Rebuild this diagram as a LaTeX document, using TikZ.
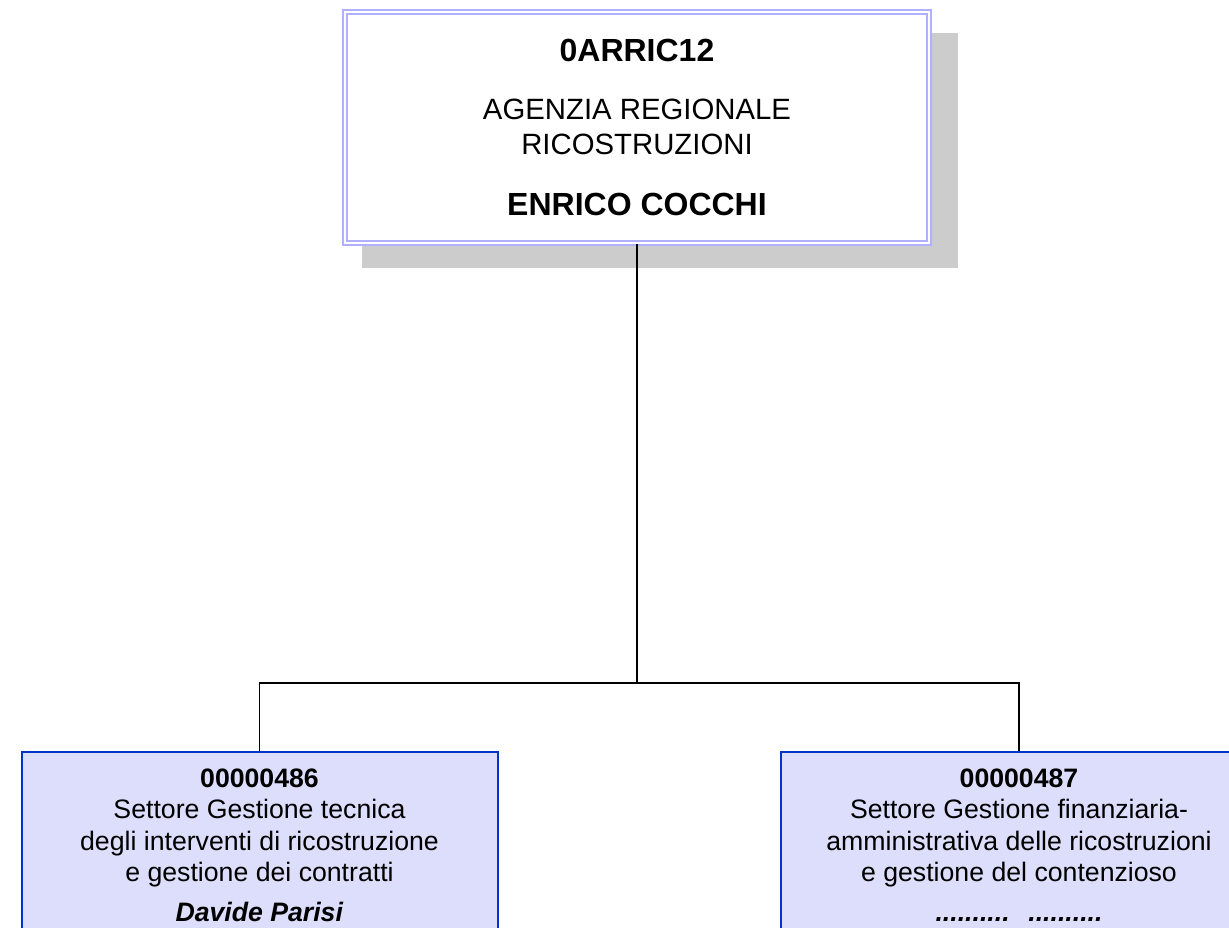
\documentclass[tikz,border=0pt]{standalone}
\usepackage{fontspec}
\setmainfont{Liberation Sans}
\usetikzlibrary{shadows}

\definecolor{framelight}{RGB}{176,176,255}
\definecolor{shadowgray}{RGB}{204,204,204}
\definecolor{boxblue}{RGB}{0,51,204}
\definecolor{boxfill}{RGB}{221,221,252}

\begin{document}
\begin{tikzpicture}[x=0.75pt,y=-0.75pt,align=center,
    headbox/.style={rectangle,draw=framelight,double=white,line width=1.8pt,double distance=1.1pt,
      fill=white,minimum width=438pt,minimum height=173pt,inner sep=0pt,
      drop shadow={shadow xshift=16.9pt,shadow yshift=-16.9pt,shadow scale=1.02,
        fill=shadowgray,opacity=1},
      font=\fontsize{22}{26.25}\selectfont},
    unitbox/.style={rectangle,draw=boxblue,line width=1.5pt,fill=boxfill,anchor=north,
      minimum width=357pt,inner xsep=0pt,inner ysep=12.5pt,text depth=60pt,
      font=\fontsize{20}{23.6}\selectfont},
    conn/.style={black,line width=1.1pt}]
    \clip (0,0) rectangle (1229,928);

    % head of the agency
    \node[headbox] (agency) at (637,127.5) {{\fontsize{24}{28}\selectfont\bfseries 0ARRIC12}\\[17.5pt]
      AGENZIA REGIONALE\\
      RICOSTRUZIONI\\[19.5pt]
      {\fontsize{24}{28}\selectfont\bfseries ENRICO COCCHI}};

    % sectors
    \node[unitbox] (tecnica) at (259.5,751) {\textbf{00000486}\\
      Settore Gestione tecnica\\
      degli interventi di ricostruzione\\
      e gestione dei contratti\\[6pt]
      \textbf{\textit{Davide Parisi}}};
    \node[unitbox] (finanza) at (1019,751) {\textbf{00000487}\\
      Settore Gestione finanziaria-\\
      amministrativa delle ricostruzioni\\
      e gestione del contenzioso\\[6pt]
      \textbf{\textit{..........\hspace{0.7em}..........}}};

    % connections
    \coordinate (split) at (637,683);
    \draw[conn] (agency.south) -- (split);
    \draw[conn] (tecnica.north) |- (split) -| (finanza.north);

\end{tikzpicture}
\end{document}
